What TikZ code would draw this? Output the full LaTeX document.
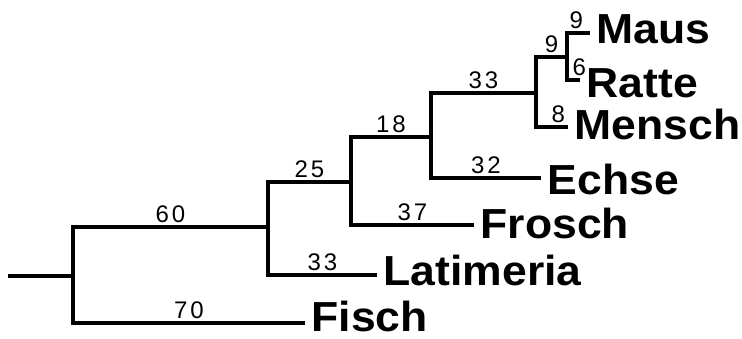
\documentclass[tikz,border=0pt]{standalone}
\usepackage{fontspec}
\setmainfont{Liberation Sans}
\newfontfamily\numfont[LetterSpace=12]{Liberation Sans}
\newfontfamily\leaffont[FakeStretch=1.06]{Liberation Sans}
\tikzstyle{leaf} = [anchor=west, inner xsep=5pt, inner ysep=0pt, font=\leaffont\fontsize{42}{42}\selectfont\bfseries]
\tikzstyle{num} = [above, pos=0.75, inner sep=3pt, font=\numfont\fontsize{24}{24}\selectfont]
\tikzstyle{elbow} = [to path={|- (\tikztotarget) \tikztonodes}]

\begin{document}
\begin{tikzpicture}[x=1pt,y=-1pt,line width=3.3pt]
\useasboundingbox (0,0) rectangle (742,338);

% inner nodes of the tree
\coordinate (root) at (8,276);
\coordinate (n1) at (73,276);
\coordinate (n2) at (268,227);
\coordinate (n3) at (351,182);
\coordinate (n4) at (431,137);
\coordinate (n5) at (536,93);
\coordinate (n6) at (567,57);

% ends of the branches
\coordinate (t-fisch) at (305,323);
\coordinate (t-latimeria) at (377,275);
\coordinate (t-frosch) at (474,225);
\coordinate (t-echse) at (541,178);
\coordinate (t-mensch) at (568,127);
\coordinate (t-ratte) at (580,80);
\coordinate (t-maus) at (590,33);

% leaves
\node[leaf, yshift=7pt] (fisch) at (t-fisch) {Fisch};
\node[leaf, yshift=5pt] (latimeria) at (t-latimeria) {Latimeria};
\node[leaf, yshift=2pt] (frosch) at (t-frosch) {Frosch};
\node[leaf, yshift=-1pt] (echse) at (t-echse) {Echse};
\node[leaf, yshift=3pt] (mensch) at (t-mensch) {Mensch};
\node[leaf, yshift=-3pt] (ratte) at (t-ratte) {Ratte};
\node[leaf, yshift=4pt] (maus) at (t-maus) {Maus};

\draw (root) -- (n1);

  \path
    (n1) edge [elbow] node[num] {70} (t-fisch)
    (n1) edge [elbow] node[num] {60} (n2)
    
    (n2) edge [elbow] node[num] {33} (t-latimeria)
    (n2) edge [elbow] node[num] {25} (n3)
    
    (n3) edge [elbow] node[num] {37} (t-frosch)
    (n3) edge [elbow] node[num] {18} (n4)
    
    (n4) edge [elbow] node[num] {32} (t-echse)
    (n4) edge [elbow] node[num] {33} (n5)
    
    (n5) edge [elbow] node[num, pos=0.85] {8} (t-mensch)
    (n5) edge [elbow] node[num] {9} (n6)
    
    (n6) edge [elbow] node[num, pos=0.97] {6} (t-ratte)
    (n6) edge [elbow] node[num, pos=0.7] {9} (t-maus);

\end{tikzpicture}
\end{document}
